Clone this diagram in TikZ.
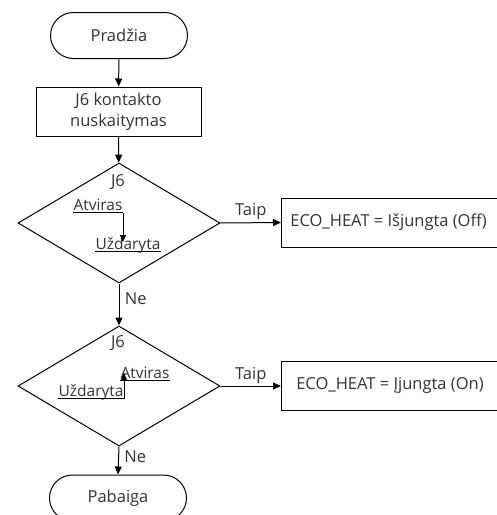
\documentclass[tikz,border=0pt]{standalone}
\usepackage{fontspec}
\setmainfont{Open Sans}
\usetikzlibrary{arrows.meta,shapes.geometric}
\begin{document}
\begin{tikzpicture}[x=1pt,y=-1pt,
  line width=1pt,
  font=\fontsize{16.5}{20}\selectfont,
  every node/.style={text=black!80},
  term/.style={draw=black,rounded corners=23pt,minimum width=137pt,minimum height=46pt,inner sep=0pt},
  procbox/.style={draw=black,minimum height=49pt,inner sep=0pt},
  decision/.style={draw=black,diamond,minimum width=202pt,minimum height=120pt,inner sep=0pt,aspect=1.68},
  lbl/.style={inner sep=0pt,font=\fontsize{15.5}{18}\selectfont},
  flow/.style={draw=black,-{Triangle[length=8pt,width=7pt]}},
  small/.style={-{Triangle[length=7pt,width=6pt]}}
]
\useasboundingbox (0,0) rectangle (497,515);
\clip (0,0) rectangle (497,515);
\node[term] (start) at (119,35.5) {Pradžia};
\node[procbox,minimum width=165pt,align=center,font=\fontsize{16.5}{21}\selectfont] (read) at (118.5,111.5) {J6 kontakto\\nuskaitymas};
\node[decision] (d1) at (119,223) {};
\node[procbox,minimum width=218pt,anchor=west] (off) at (281,222.5) {};
\node (offt) at (388.5,222.5) {ECO\_HEAT = Išjungta (Off)};
\node[decision] (d2) at (119,386) {};
\node[procbox,minimum width=218pt,anchor=west] (on) at (281,386) {};
\node (ont) at (390,385) {ECO\_HEAT = Įjungta (On)};
\node[term] (end) at (118,498) {Pabaiga};

\node (j61) at (118,182) {J6};
\node[lbl,anchor=base east] (a1) at (123,210) {Atviras};
\node[lbl,anchor=base west] (u1) at (95,249) {Uždaryta};
\draw ([yshift=-2.5pt]a1.base west) -- ([yshift=-2.5pt]a1.base east) coordinate (a1e);
\draw ([yshift=-2.5pt]u1.base west) -- ([yshift=-2.5pt]u1.base east);
\draw[black,small] (a1e) -- (a1e |- 0,242) coordinate (a1t);

\node (j62) at (118,343) {J6};
\node[lbl,anchor=base west] (a2) at (120,378) {Atviras};
\node[lbl,anchor=base east] (u2) at (124,396) {Uždaryta};
\draw ([yshift=-2.5pt]a2.base west) -- ([yshift=-2.5pt]a2.base east);
\draw ([yshift=-2.5pt]u2.base west) -- ([yshift=-2.5pt]u2.base east) coordinate (u2e);
\draw[black,small] (u2e) -- (u2e |- 0,373);

\draw[flow] (start) -- (read);
\draw[flow] (read) -- (d1);
\draw[flow] (d1.east) -- node[above=-1pt] {Taip} (off.west);
\draw[flow] (d1.south) -- node[right=2pt,pos=0.35] {Ne} (d2.north);
\draw[flow] (d2.east) -- node[above=-1pt] {Taip} (on.west);
\draw[flow] (d2.south) -- node[right=2pt,pos=0.35] {Ne} (end.north);
\end{tikzpicture}
\end{document}
